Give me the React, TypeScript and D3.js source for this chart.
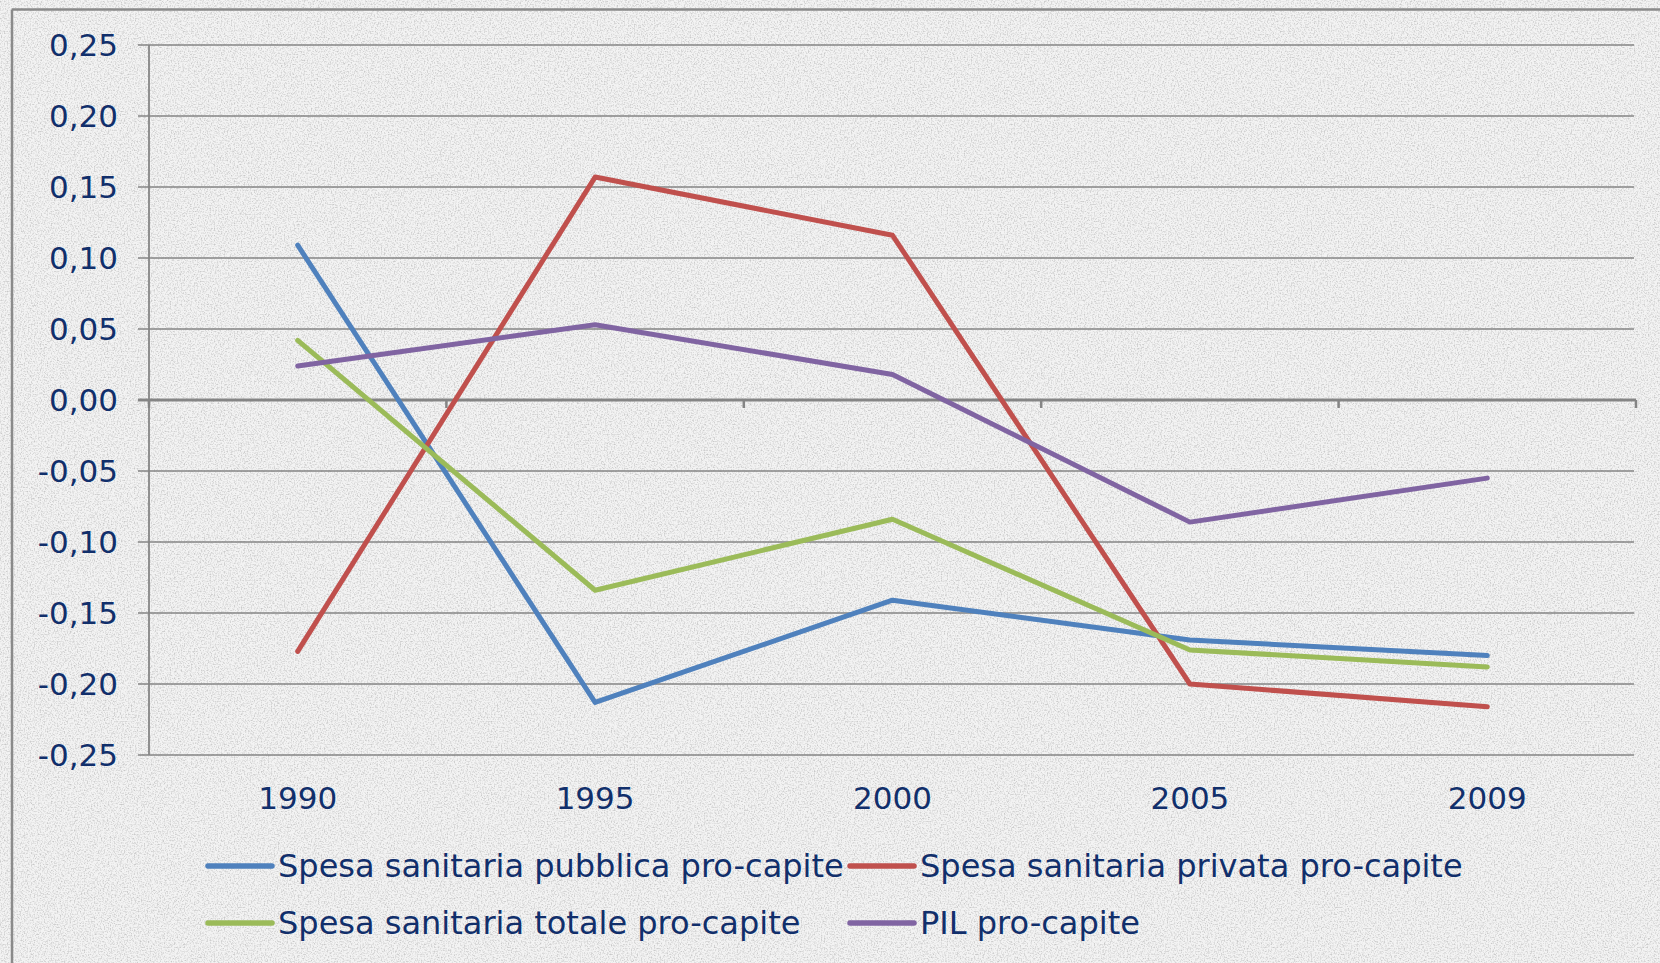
import React from "react";
import * as d3 from "d3";

const years = ["1990", "1995", "2000", "2005", "2009"];
const pubblica = [0.109, -0.213, -0.141, -0.169, -0.18];
const privata = [-0.177, 0.157, 0.116, -0.2, -0.216];
const totale = [0.042, -0.134, -0.084, -0.176, -0.188];
const pil = [0.024, 0.053, 0.018, -0.086, -0.055];
const yTicks = [-0.25, -0.2, -0.15, -0.1, -0.05, 0, 0.05, 0.1, 0.15, 0.2, 0.25];

const seriesNames = [
  "Spesa sanitaria pubblica pro-capite",
  "Spesa sanitaria privata pro-capite",
  "Spesa sanitaria totale pro-capite",
  "PIL pro-capite",
];
const seriesColors = ["#4F81BD", "#C0504D", "#9BBB59", "#8064A2"];
const seriesValues = [pubblica, privata, totale, pil];

const W = 1660;
const H = 963;
const left = 149;
const right = 1636;
const top = 45;
const bottom = 755;
const textColor = "#112F6B";
const gridColor = "#858585";
const font = "'DejaVu Sans', Verdana, sans-serif";
const fontSize = 31;
const legendFontSize = 32;

const locale = d3.formatLocale({
  decimal: ",",
  thousands: ".",
  grouping: [3],
  currency: ["", "€"],
  minus: "-",
});
const fmt = locale.format(".2f");

export default function App() {
  const x = d3.scaleBand<string>().domain(years).range([left, right]).padding(0);
  const y = d3.scaleLinear().domain([-0.25, 0.25]).range([bottom, top]);
  const cx = (yr: string) => (x(yr) as number) + x.bandwidth() / 2;
  const line = d3
    .line<number>()
    .x((_, i) => cx(years[i]))
    .y((d) => y(d));

  const boundaries = years.map((yr) => x(yr) as number).concat([right]);

  const legendItems = [
    { lx: 208, row: 0 },
    { lx: 850, row: 0 },
    { lx: 208, row: 1 },
    { lx: 850, row: 1 },
  ];
  const rowY = [866, 923];

  return (
    <svg
      width={W}
      height={H}
      style={{ position: "absolute", left: 0, top: 0, display: "block" }}
      fontFamily={font}
    >
      <defs>
        <filter id="grain" x="0" y="0" width="100%" height="100%">
          <feTurbulence type="fractalNoise" baseFrequency="0.7" numOctaves={2} seed={3} result="n" />
          <feColorMatrix
            in="n"
            type="matrix"
            values="0 0 0 0 0.42  0 0 0 0 0.42  0 0 0 0 0.42  2.6 0 0 0 -1.15"
          />
        </filter>
      </defs>
      <rect x={0} y={0} width={W} height={H} fill="#f3f3f3" />
      <rect x={0} y={0} width={W} height={H} filter="url(#grain)" opacity={0.6} />

      {/* outer chart border (top & left visible) */}
      <line x1={12} y1={9.5} x2={W} y2={9.5} stroke="#8a8a8a" strokeWidth={2.5} />
      <line x1={12} y1={9.5} x2={12} y2={H} stroke="#8a8a8a" strokeWidth={2.5} />

      {/* gridlines */}
      {yTicks.map((t) => (
        <line
          key={"g" + t}
          x1={138}
          x2={t === 0 ? right : right - 2}
          y1={y(t)}
          y2={y(t)}
          stroke={gridColor}
          strokeWidth={t === 0 ? 3.2 : 1.6}
        />
      ))}
      {/* y axis line */}
      <line x1={left} x2={left} y1={top} y2={bottom} stroke={gridColor} strokeWidth={1.8} />
      {/* x tick marks at category boundaries */}
      {boundaries.map((bx, i) => (
        <line key={"xt" + i} x1={bx} x2={bx} y1={y(0)} y2={y(0) + 8} stroke={gridColor} strokeWidth={2.5} />
      ))}

      {/* y labels */}
      {yTicks.map((t) => (
        <text
          key={"yl" + t}
          x={118}
          y={y(t)}
          dy="0.36em"
          textAnchor="end"
          fontSize={fontSize}
          fill={textColor}
        >
          {fmt(t)}
        </text>
      ))}

      {/* x labels */}
      {years.map((yr) => (
        <text key={"xl" + yr} x={cx(yr)} y={809} textAnchor="middle" fontSize={fontSize} fill={textColor}>
          {yr}
        </text>
      ))}

      {/* series */}
      {seriesValues.map((vals, i) => (
        <path
          key={"s" + i}
          d={line(vals) as string}
          fill="none"
          stroke={seriesColors[i]}
          strokeWidth={5}
          strokeLinejoin="round"
          strokeLinecap="round"
        />
      ))}

      {/* legend */}
      {legendItems.map((it, i) => (
        <g key={"lg" + i}>
          <line
            x1={it.lx}
            x2={it.lx + 64}
            y1={rowY[it.row]}
            y2={rowY[it.row]}
            stroke={seriesColors[i]}
            strokeWidth={5.5}
            strokeLinecap="round"
          />
          <text x={it.lx + 70} y={rowY[it.row] + 11} fontSize={legendFontSize} fill={textColor}>
            {seriesNames[i]}
          </text>
        </g>
      ))}
    </svg>
  );
}
